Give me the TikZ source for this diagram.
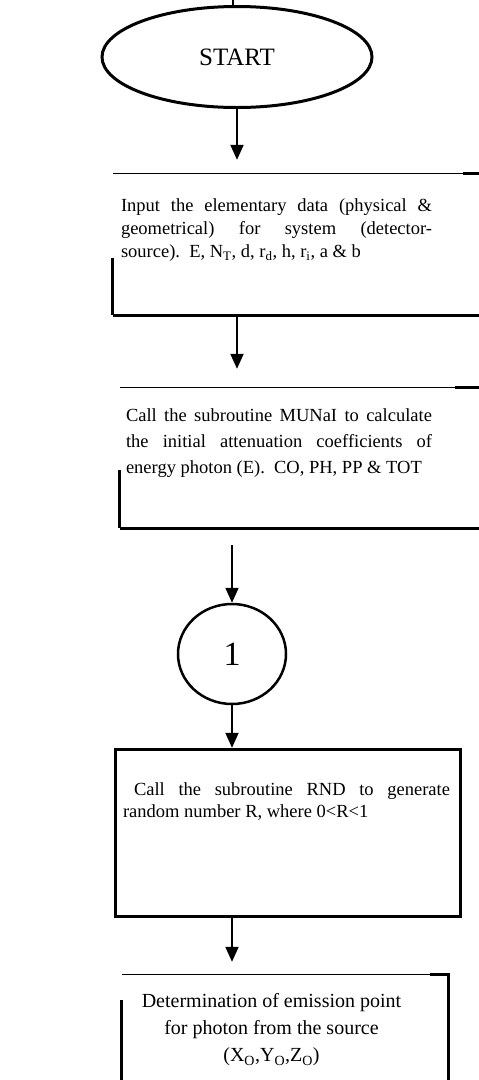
\documentclass[tikz,border=0pt]{standalone}
\usepackage{fontspec}
\setmainfont{Liberation Serif}
\usetikzlibrary{shapes.geometric,arrows.meta,fit}
\begin{document}
\begin{tikzpicture}[x=1pt,y=-1pt,
  bthin/.style={line width=1.2pt},
  bthick/.style={line width=3pt},
  arr/.style={line width=2pt,-{Triangle[width=13pt,length=15pt]}},
  frame/.style={inner sep=0pt,draw=none},
  txt/.style={inner sep=0pt,font=\fontsize{18.5}{23}\selectfont}]
\useasboundingbox[fill=white] (0,0) rectangle (479,1080);
% start
\node[draw,ellipse,line width=3pt,minimum width=270pt,minimum height=101pt,
      font=\fontsize{25}{28}\selectfont] (start) at (237,57) {START};
\coordinate (toptick) at (233,0);
\draw[line width=1.5pt] (toptick) -- (toptick |- start.north);
% box 1
\node[frame,fit={(113,174) (479,315)}] (b1) {};
\draw[bthin] (b1.north west) -- ([xshift=-16pt]b1.north east);
\draw[bthick] ([xshift=-16pt]b1.north east) -- (b1.north east);
\draw[bthick] (b1.south west) -- (b1.south east);
\draw[bthick] (b1.south west) -- ++(0,-57);
\node[txt,text width=311pt,align=justify] (t1) at (276.5,230)
  {Input the elementary data (physical \&\linebreak geometrical) for system (detector-\linebreak source).\ \ E, N\textsubscript{T}, d, r\textsubscript{d}, h, r\textsubscript{i}, a \& b};
% box 2
\node[frame,fit={(120,388) (479,528)}] (b2) {};
\draw[bthin] (b2.north west) -- ([xshift=-24pt]b2.north east);
\draw[bthick] ([xshift=-24pt]b2.north east) -- (b2.north east);
\draw[bthick] (b2.south west) -- (b2.south east);
\draw[bthick] (b2.south west) -- ++(0,-58);
\node[txt,text width=306pt,align=justify,font=\fontsize{18.5}{26}\selectfont] (t2) at (279,443)
  {Call the subroutine MUNaI to calculate\linebreak the initial attenuation coefficients of\linebreak energy photon (E).\ \ CO, PH, PP \& TOT};
% connector circle
\node[draw,ellipse,line width=2.5pt,minimum width=108pt,minimum height=100pt,
      font=\fontsize{34}{34}\selectfont] (c1) at (232,654) {1};
% box 3
\node[frame,fit={(116,750) (460,916)}] (b3) {};
\draw[bthick] (b3.north west) rectangle (b3.south east);
\node[txt,text width=327pt,align=justify,font=\fontsize{18.5}{22}\selectfont] (t3) at (286.5,801)
  {\hspace*{11pt}Call the subroutine RND to generate\linebreak random number R, where 0<R<1};
% box 4
\node[frame,fit={(122,975) (448,1080)}] (b4) {};
\draw[bthin] (b4.north west) -- ([xshift=-18pt]b4.north east);
\draw[bthick] ([xshift=-18pt]b4.north east) -- (b4.north east) -- (b4.south east);
\draw[bthick] (b4.south west) -- ++(0,-80);
\node[txt,align=center,font=\fontsize{20}{27}\selectfont] (t4) at (271.5,1030)
  {Determination of emission point\\for photon from the source\\(X\textsubscript{O},Y\textsubscript{O},Z\textsubscript{O})};
% arrows
\draw[arr,shorten >=14pt] (start.south) -- (start.south |- b1.north);
\draw[arr,shorten >=19pt] (b1.south -| start.south) -- (b2.north -| start.south);
\coordinate (a3s) at ([yshift=-17pt]b2.south -| c1.north);
\draw[arr] (a3s) -- (c1.north);
\draw[arr,shorten >=2pt] (c1.south) -- (b3.north -| c1.south);
\draw[arr,shorten >=13pt] (b3.south -| c1.south) -- (b4.north -| c1.south);
\end{tikzpicture}
\end{document}
